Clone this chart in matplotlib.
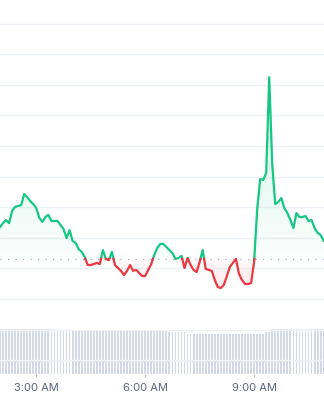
import numpy as np
import pandas as pd
import matplotlib
matplotlib.use("Agg")
import matplotlib.pyplot as plt
import matplotlib.dates as mdates
from matplotlib.path import Path
from matplotlib.patches import PathPatch

# 5-minute samples starting at 2:00 AM
start_time = "2024-01-01 02:00"
price = [
    2.35, 2.48, 2.58, 2.48, 2.88, 3.01, 3.04, 3.07, 3.43, 3.33,
    3.20, 3.10, 2.97, 2.65, 2.52, 2.68, 2.75, 2.55, 2.55, 2.55,
    2.42, 2.29, 1.99, 2.25, 1.90, 1.83, 1.63, 1.54, 1.37, 1.11,
    1.11, 1.14, 1.18, 1.14, 1.60, 1.31, 1.27, 1.54, 1.11, 1.01,
    0.92, 0.78, 0.92, 1.11, 0.92, 0.95, 0.85, 0.75, 0.75, 0.95,
    1.14, 1.44, 1.67, 1.80, 1.80, 1.70, 1.60, 1.50, 1.31, 1.34,
    1.41, 1.01, 1.34, 1.11, 0.95, 0.88, 1.21, 1.60, 0.98, 0.95,
    0.92, 0.62, 0.39, 0.36, 0.46, 0.75, 1.05, 1.18, 1.31, 0.82,
    0.62, 0.49, 0.49, 0.52, 1.21, 2.91, 3.92, 3.89, 4.12, 7.25,
    4.38, 3.10, 3.17, 3.30, 2.97, 2.81, 2.58, 2.32, 2.81, 2.68,
    2.68, 2.71, 2.55, 2.58, 2.32, 2.16, 2.09, 1.90,
]
volume = [
    45, 45, 45, 45, 45, 45, 45, 45, 45, 45,
    45, 45, 45, 45, 45, 45, 45, 45, 45, 44.5,
    44.5, 44.5, 44.5, 44.5, 44.5, 44.5, 44.5, 44.5, 44.5, 44.5,
    44.5, 44.5, 44.5, 44.5, 44.5, 44.5, 44.5, 44.5, 44.5, 43,
    43, 43, 43, 43, 43, 43, 43, 43, 43, 43,
    43, 43, 43, 43, 43, 43, 42, 42, 42, 42,
    42, 42, 40.5, 40.5, 40.5, 40.5, 40.5, 40.5, 40.5, 40.5,
    40.5, 40.5, 40.5, 40.5, 40.5, 40.5, 40.5, 40.5, 40.5, 40.5,
    40.5, 40.5, 40.5, 40.5, 40.5, 40.5, 40.5, 40.5, 42, 42,
    45, 45, 45, 45, 45, 45, 45, 45, 45, 45,
    45, 45, 45, 45, 45, 45, 45, 45,
]
open_price = 1.31
tick_hours = [3, 6, 9]

GREEN = "#16c784"
RED = "#ea3943"

times = pd.date_range(start_time, periods=len(price), freq="5min")
x = mdates.date2num(times.to_pydatetime())
y = np.array(price, dtype=float)
step = x[1] - x[0]
x_end = x[0] + 324 / 36.3 / 24

fig = plt.figure(figsize=(3.24, 4.0), dpi=100)
bottom = 26 / 400
vax = fig.add_axes([0, bottom, 1, 60 / 400])
ax = fig.add_axes([0, bottom, 1, 374 / 400])
vax.set_zorder(0)
ax.set_zorder(1)
ax.patch.set_visible(False)

# volume bars
vax.bar(x, volume, width=step * 0.6, color="#d3d9e6", align="center", linewidth=0)
vax.set_xlim(x[0], x_end)
vax.set_ylim(0, 60)
vax.axis("off")

# split line at crossings with the open price
xs, ys = [x[0]], [y[0]]
for i in range(1, len(y)):
    y0, y1 = y[i - 1], y[i]
    if (y0 - open_price) * (y1 - open_price) < 0:
        t = (open_price - y0) / (y1 - y0)
        xs.append(x[i - 1] + t * (x[i] - x[i - 1]))
        ys.append(open_price)
    xs.append(x[i])
    ys.append(y1)
xs = np.array(xs)
ys = np.array(ys)

def gradient_fill(mask_above, color, y_far, a_far):
    coll = ax.fill_between(xs, ys, open_price, where=mask_above, interpolate=True, alpha=0)
    paths = coll.get_paths()
    coll.remove()
    if not paths:
        return
    clip = PathPatch(Path.make_compound_path(*paths), transform=ax.transData,
                     facecolor="none", edgecolor="none")
    rgb = matplotlib.colors.to_rgb(color)
    n = 256
    img = np.zeros((n, 1, 4))
    img[:, 0, :3] = rgb
    lo, hi = sorted([open_price, y_far])
    alphas = np.linspace(0, 1, n)
    if y_far > open_price:
        img[:, 0, 3] = 0.02 + (a_far - 0.02) * alphas
    else:
        img[:, 0, 3] = a_far - (a_far - 0.02) * alphas
    im = ax.imshow(img, extent=[x[0], x_end, lo, hi], origin="lower",
                   aspect="auto", zorder=1, interpolation="bilinear")
    im.set_clip_path(clip)

gradient_fill(ys >= open_price, GREEN, y.max(), 0.2)
gradient_fill(ys <= open_price, RED, y.min(), 0.12)

green = np.where(ys >= open_price, ys, np.nan)
red = np.where(ys <= open_price, ys, np.nan)
ax.plot(xs, green, color=GREEN, lw=1.6, zorder=3, solid_joinstyle="round")
ax.plot(xs, red, color=RED, lw=1.6, zorder=3, solid_joinstyle="round")

ax.axhline(open_price, color="#a6b0c3", lw=0.9, linestyle=(0, (1, 5)), zorder=2)

ax.set_xlim(x[0], x_end)
ax.set_ylim(-(374 - 299) / 30.6, 299 / 30.6)
ax.set_yticks(np.arange(-2, 10))
ax.grid(axis="y", color="#eff2f5", lw=1)
ax.set_axisbelow(True)
for s in ax.spines.values():
    s.set_visible(False)

ax.xaxis.set_major_locator(mdates.HourLocator(byhour=tick_hours))
ax.xaxis.set_major_formatter(
    matplotlib.ticker.FuncFormatter(lambda v, p: mdates.num2date(v).strftime("%-I:%M %p")))
ax.tick_params(axis="x", length=2.5, width=0.8, color="#b8c0cc", labelsize=8,
               labelcolor="#58667e", pad=4)
ax.tick_params(axis="y", left=False, labelleft=False)
for lab in ax.get_xticklabels():
    lab.set_fontfamily(["Inter", "DejaVu Sans"])

fig.savefig("out.png", dpi=100)
